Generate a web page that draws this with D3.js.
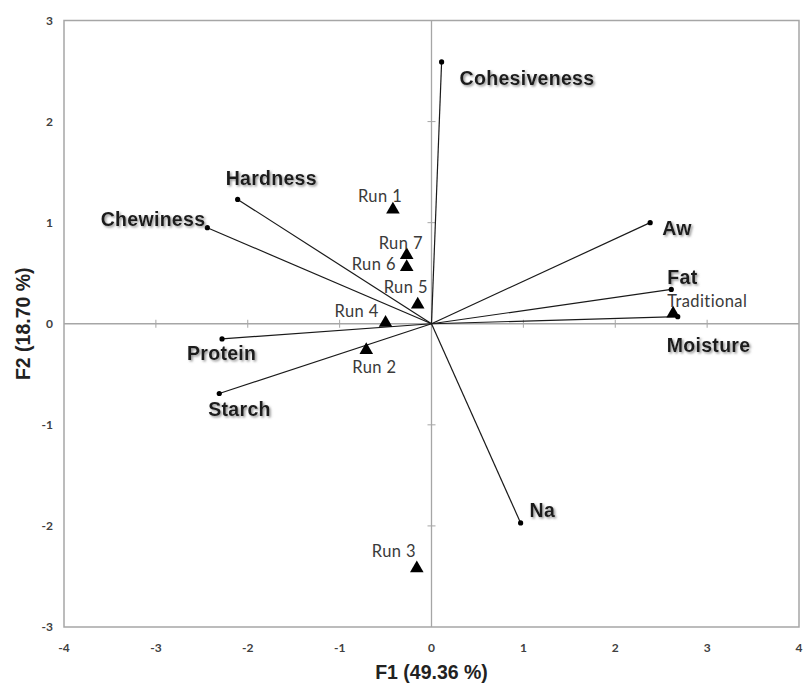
<!DOCTYPE html>
<html>
<head>
<meta charset="utf-8">
<script src="https://cdn.jsdelivr.net/npm/d3@7"></script>
<style>
  body { margin: 0; background: #fff; }
  svg { display: block; }
</style>
</head>
<body>
<svg id="chart" width="803" height="684"></svg>
<script>
'use strict';

// active variables (loadings on F1 / F2)
var varNames = ['Cohesiveness', 'Hardness', 'Chewiness', 'Aw', 'Fat', 'Moisture', 'Protein', 'Starch', 'Na'];
var varF1 = [0.11, -2.11, -2.44, 2.38, 2.61, 2.68, -2.28, -2.31, 0.97];
var varF2 = [2.59, 1.23, 0.95, 1.00, 0.34, 0.07, -0.15, -0.69, -1.97];

// observations
var obsNames = ['Run 1', 'Run 2', 'Run 3', 'Run 4', 'Run 5', 'Run 6', 'Run 7', 'Traditional'];
var obsF1 = [-0.42, -0.71, -0.16, -0.50, -0.15, -0.27, -0.27, 2.63];
var obsF2 = [1.13, -0.26, -2.42, 0.01, 0.19, 0.56, 0.68, 0.10];

var xTicks = [-4, -3, -2, -1, 0, 1, 2, 3, 4];
var yTicks = [-3, -2, -1, 0, 1, 2, 3];

var xTitle = 'F1 (49.36 %)',
    yTitle = 'F2 (18.70 %)';

// label placement (pixel offsets from the mark)
var varLabelPos = {
    'Cohesiveness': [18, 23, 'start'],
    'Hardness': [-12, -14, 'start'],
    'Chewiness': [-2, -2, 'end'],
    'Aw': [12, 12, 'start'],
    'Fat': [-4, -5, 'start'],
    'Moisture': [-11, 35, 'start'],
    'Protein': [-35, 21, 'start'],
    'Starch': [-11, 23, 'start'],
    'Na': [9, -6, 'start']
};
var obsLabelPos = {
    'Run 1': [-35, -8],
    'Run 2': [-14, 23],
    'Run 3': [-45, -11],
    'Run 4': [-51, -6],
    'Run 5': [-34, -12],
    'Run 6': [-55, 3],
    'Run 7': [-28, -6],
    'Traditional': [-6, -7]
};

var svg = d3.select('#chart');

var x = d3.scaleLinear().domain([-4, 4]).range([64, 799]),
    y = d3.scaleLinear().domain([-3, 3]).range([627, 20.5]);

var axisColor = '#a6a6a6';

// drop shadow for the bold variable labels
var defs = svg.append('defs');
defs.append('filter')
    .attr('id', 'shadow')
    .attr('x', '-10%').attr('y', '-30%')
    .attr('width', '130%').attr('height', '170%')
  .append('feDropShadow')
    .attr('dx', 1.5).attr('dy', 1.5)
    .attr('stdDeviation', 1)
    .attr('flood-color', '#777')
    .attr('flood-opacity', 0.8);

// frame
svg.append('rect')
    .attr('x', x(-4)).attr('y', y(3))
    .attr('width', x(4) - x(-4))
    .attr('height', y(-3) - y(3))
    .attr('fill', 'none')
    .attr('stroke', axisColor)
    .attr('stroke-width', 1.5);

// zero axes
svg.append('line')
    .attr('x1', x(-4)).attr('x2', x(4))
    .attr('y1', y(0)).attr('y2', y(0))
    .attr('stroke', axisColor).attr('stroke-width', 1.3);
svg.append('line')
    .attr('x1', x(0)).attr('x2', x(0))
    .attr('y1', y(-3)).attr('y2', y(3))
    .attr('stroke', axisColor).attr('stroke-width', 1.3);

// cross ticks on the zero axes
var gTicks = svg.append('g').attr('class', 'ticks');
gTicks.selectAll('line.xt')
    .data(xTicks.filter(function(d) { return d > -4 && d < 4 && d !== 0; }))
    .enter().append('line')
        .attr('class', 'xt')
        .attr('x1', function(d) { return x(d); })
        .attr('x2', function(d) { return x(d); })
        .attr('y1', y(0) - 4).attr('y2', y(0) + 4)
        .attr('stroke', axisColor);
gTicks.selectAll('line.yt')
    .data(yTicks.filter(function(d) { return d > -3 && d < 3 && d !== 0; }))
    .enter().append('line')
        .attr('class', 'yt')
        .attr('y1', function(d) { return y(d); })
        .attr('y2', function(d) { return y(d); })
        .attr('x1', x(0) - 4).attr('x2', x(0) + 4)
        .attr('stroke', axisColor);

// tick labels, outside the frame
var tickFont = 'Lato, "Open Sans", sans-serif';
svg.append('g').selectAll('text')
    .data(xTicks)
    .enter().append('text')
        .attr('x', function(d) { return x(d); })
        .attr('y', 652)
        .attr('text-anchor', 'middle')
        .attr('font-family', tickFont)
        .attr('font-size', 12)
        .attr('font-weight', 'bold')
        .attr('fill', '#404040')
        .text(function(d) { return d; });
svg.append('g').selectAll('text')
    .data(yTicks)
    .enter().append('text')
        .attr('x', 53)
        .attr('y', function(d) { return y(d) + 4; })
        .attr('text-anchor', 'end')
        .attr('font-family', tickFont)
        .attr('font-size', 12)
        .attr('font-weight', 'bold')
        .attr('fill', '#404040')
        .text(function(d) { return d; });

// axis titles
svg.append('text')
    .attr('x', x(0)).attr('y', 679)
    .attr('text-anchor', 'middle')
    .attr('font-family', 'Liberation Sans, Arial, sans-serif')
    .attr('font-weight', 'bold')
    .attr('font-size', 19.5)
    .attr('fill', '#222')
    .text(xTitle);
svg.append('text')
    .attr('transform', 'translate(30,' + y(0) + ') rotate(-90)')
    .attr('text-anchor', 'middle')
    .attr('font-family', 'Liberation Sans, Arial, sans-serif')
    .attr('font-weight', 'bold')
    .attr('font-size', 19.5)
    .attr('fill', '#222')
    .text(yTitle);

// variable vectors
var vars = varNames.map(function(name, i) {
    return {name: name, f1: varF1[i], f2: varF2[i]};
});

var gVars = svg.append('g').attr('class', 'vars');
gVars.selectAll('line')
    .data(vars)
    .enter().append('line')
        .attr('x1', x(0)).attr('y1', y(0))
        .attr('x2', function(d) { return x(d.f1); })
        .attr('y2', function(d) { return y(d.f2); })
        .attr('stroke', '#1a1a1a')
        .attr('stroke-width', 1.2);
gVars.selectAll('circle')
    .data(vars)
    .enter().append('circle')
        .attr('cx', function(d) { return x(d.f1); })
        .attr('cy', function(d) { return y(d.f2); })
        .attr('r', 2.6)
        .attr('fill', '#000');

// observations
var obs = obsNames.map(function(name, i) {
    return {name: name, f1: obsF1[i], f2: obsF2[i]};
});

var tri = d3.symbol().type(d3.symbolTriangle).size(80);
var gObs = svg.append('g').attr('class', 'obs');
gObs.selectAll('path')
    .data(obs)
    .enter().append('path')
        .attr('d', tri)
        .attr('transform', function(d) {
            return 'translate(' + x(d.f1) + ',' + y(d.f2) + ')';
        })
        .attr('fill', '#000');

gObs.selectAll('text')
    .data(obs)
    .enter().append('text')
        .attr('x', function(d) { return x(d.f1) + obsLabelPos[d.name][0]; })
        .attr('y', function(d) { return y(d.f2) + obsLabelPos[d.name][1]; })
        .attr('font-family', 'Lato, "Open Sans", sans-serif')
        .attr('font-size', 16.5)
        .attr('letter-spacing', 0.4)
        .attr('fill', '#3a3a3a')
        .text(function(d) { return d.name; });

// variable labels on top
gVars.selectAll('text')
    .data(vars)
    .enter().append('text')
        .attr('x', function(d) { return x(d.f1) + varLabelPos[d.name][0]; })
        .attr('y', function(d) { return y(d.f2) + varLabelPos[d.name][1]; })
        .attr('text-anchor', function(d) { return varLabelPos[d.name][2]; })
        .attr('font-family', 'Liberation Sans, Arial, sans-serif')
        .attr('font-weight', 'bold')
        .attr('font-size', 19.5)
        .attr('letter-spacing', 0.3)
        .attr('fill', '#1a1a1a')
        .attr('filter', 'url(#shadow)')
        .text(function(d) { return d.name; });
</script>
</body>
</html>
